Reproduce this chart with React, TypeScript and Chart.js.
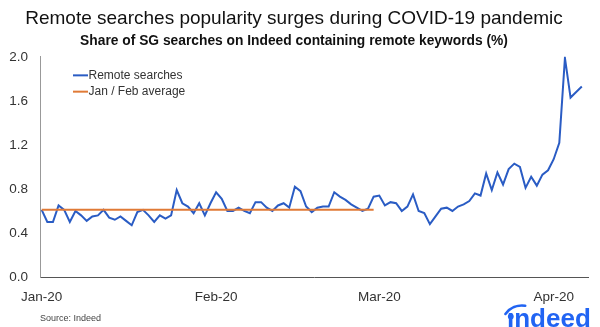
import { useEffect, useRef } from 'react';
import { Chart, registerables } from 'chart.js';

Chart.register(...registerables);

// ---- Data (daily, 1 Jan 2020 – 6 Apr 2020) ----
const remoteSearches = [
  0.61, 0.50, 0.50, 0.65, 0.61, 0.50, 0.60, 0.56, 0.51, 0.55,
  0.56, 0.61, 0.54, 0.52, 0.55, 0.51, 0.47, 0.59, 0.61, 0.56,
  0.50, 0.56, 0.53, 0.56, 0.79, 0.67, 0.64, 0.58, 0.67, 0.56,
  0.67, 0.77, 0.71, 0.60, 0.60, 0.63, 0.60, 0.58, 0.68, 0.68,
  0.63, 0.60, 0.65, 0.67, 0.63, 0.82, 0.78, 0.64, 0.59, 0.63,
  0.64, 0.64, 0.77, 0.73, 0.70, 0.66, 0.63, 0.60, 0.62, 0.73,
  0.74, 0.65, 0.68, 0.67, 0.60, 0.64, 0.75, 0.60, 0.58, 0.48,
  0.55, 0.62, 0.63, 0.60, 0.64, 0.66, 0.69, 0.76, 0.74, 0.94,
  0.79, 0.95, 0.84, 0.98, 1.03, 1.00, 0.81, 0.91, 0.83, 0.93,
  0.97, 1.07, 1.22, 1.99, 1.63, 1.68, 1.73,
];
const janFebAverage = 0.61;
const janFebDays = 60;
const seriesLabels = ['Remote searches', 'Jan / Feb average'];
const monthTickIndex = [0, 31, 60, 91];
const monthTickLabels = ['Jan-20', 'Feb-20', 'Mar-20', 'Apr-20'];
const yTickValues = [0, 0.4, 0.8, 1.2, 1.6, 2.0];
const titleText = 'Remote searches popularity surges during COVID-19 pandemic';
const subtitleText = 'Share of SG searches on Indeed containing remote keywords (%)';
const sourceText = 'Source: Indeed';
const logoText = '\u0131ndeed';

const FONT = '"Liberation Sans", Arial, Helvetica, sans-serif';
const BLUE = '#2a5cc4';
const ORANGE = '#e07a36';
const LOGO_BLUE = '#2164f3';

const insideLegend = {
  id: 'insideLegend',
  afterDraw(chart: any) {
    const ctx = chart.ctx;
    const { left, top } = chart.chartArea;
    ctx.save();
    ctx.font = `12px ${FONT}`;
    ctx.textBaseline = 'middle';
    ctx.textAlign = 'left';
    chart.data.datasets.forEach((ds: any, i: number) => {
      const y = top + 18.5 + i * 16.3;
      const x0 = left + 33;
      ctx.strokeStyle = ds.borderColor;
      ctx.lineWidth = 2;
      ctx.beginPath();
      ctx.moveTo(x0, y);
      ctx.lineTo(x0 + 15, y);
      ctx.stroke();
      ctx.fillStyle = '#333';
      ctx.fillText(ds.label, x0 + 15.5, y + 0.5);
    });
    ctx.restore();
  },
};

const footer = {
  id: 'footer',
  afterDraw(chart: any) {
    const ctx = chart.ctx;
    ctx.save();
    ctx.font = `9px ${FONT}`;
    ctx.fillStyle = '#444';
    ctx.textBaseline = 'middle';
    ctx.textAlign = 'left';
    ctx.fillText(sourceText, 40, 319);
    // logo
    ctx.font = `bold 26px ${FONT}`;
    ctx.fillStyle = LOGO_BLUE;
    ctx.textBaseline = 'alphabetic';
    ctx.fillText(logoText, 507, 327);
    ctx.beginPath();
    ctx.arc(510.8, 316.5, 2.9, 0, Math.PI * 2);
    ctx.fill();
    ctx.strokeStyle = LOGO_BLUE;
    ctx.lineWidth = 2.6;
    ctx.lineCap = 'round';
    ctx.beginPath();
    ctx.arc(522, 326, 20.5, Math.PI * 1.2, Math.PI * 1.55);
    ctx.stroke();
    ctx.restore();
  },
};

export default function App() {
  const canvasRef = useRef<HTMLCanvasElement | null>(null);

  useEffect(() => {
    document.body.style.margin = '0';
    const canvas = canvasRef.current;
    if (!canvas) return;

    const chart = new Chart(canvas, {
      type: 'line',
      data: {
        datasets: [
          {
            label: seriesLabels[0],
            data: remoteSearches.map((v, i) => ({ x: i, y: v })),
            borderColor: BLUE,
            backgroundColor: BLUE,
            borderWidth: 2,
            pointRadius: 0,
            tension: 0,
            order: 1,
          },
          {
            label: seriesLabels[1],
            data: [
              { x: 0, y: janFebAverage },
              { x: janFebDays - 1, y: janFebAverage },
            ],
            borderColor: ORANGE,
            backgroundColor: ORANGE,
            borderWidth: 2,
            pointRadius: 0,
            order: 0,
          },
        ],
      },
      options: {
        animation: false,
        responsive: false,
        maintainAspectRatio: false,
        layout: { padding: { left: 0, right: 12, top: 0, bottom: 0 } },
        plugins: {
          legend: { display: false },
          tooltip: { enabled: false },
          title: {
            display: true,
            text: titleText,
            color: '#111',
            font: { family: FONT, size: 19, weight: 'normal' },
            padding: { top: 7.5, bottom: 2.5 },
          },
          subtitle: {
            display: true,
            text: subtitleText,
            color: '#111',
            font: { family: FONT, size: 13.8, weight: 'bold' },
            padding: { top: 0.5, bottom: 7 },
          },
        },
        scales: {
          x: {
            type: 'linear',
            min: -0.3,
            max: 97.1,
            grid: { display: false, drawTicks: false },
            border: { display: true, color: '#555', width: 1 },
            afterBuildTicks: (scale: any) => {
              scale.ticks = monthTickIndex.map((v) => ({ value: v }));
            },
            afterFit: (scale: any) => {
              scale.height = 50;
            },
            ticks: {
              autoSkip: false,
              maxRotation: 0,
              padding: 12,
              color: '#333',
              font: { family: FONT, size: 13.5 },
              callback: (value: any) => {
                const k = monthTickIndex.indexOf(Number(value));
                return k >= 0 ? monthTickLabels[k] : '';
              },
            },
          },
          y: {
            type: 'linear',
            min: 0,
            max: 2,
            grid: { display: false, drawTicks: false },
            border: { display: true, color: '#999', width: 1 },
            afterBuildTicks: (scale: any) => {
              scale.ticks = yTickValues.map((v) => ({ value: v }));
            },
            afterFit: (scale: any) => {
              scale.width = 40;
            },
            ticks: {
              padding: 12,
              color: '#333',
              font: { family: FONT, size: 13.5 },
              callback: (value: any) => Number(value).toFixed(1),
            },
          },
        },
      },
      plugins: [insideLegend, footer],
    } as any);

    return () => chart.destroy();
  }, []);

  return (
    <div style={{ width: 600, height: 327, position: 'relative', background: '#fff' }}>
      <canvas ref={canvasRef} width={600} height={327} style={{ display: 'block' }} />
    </div>
  );
}
